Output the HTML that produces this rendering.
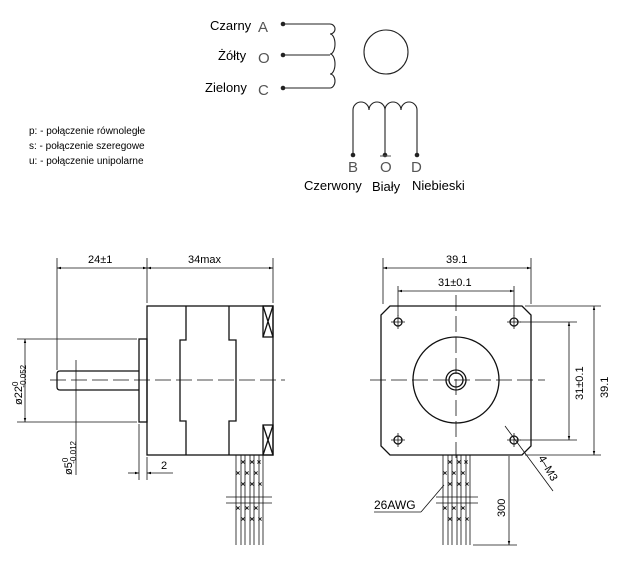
<!DOCTYPE html>
<html><head><meta charset="utf-8"><style>
html,body{margin:0;padding:0;background:#fff;}
svg{display:block;}
.t{font-family:"Liberation Sans",sans-serif;}
</style></head><body>
<svg width="641" height="586" viewBox="0 0 641 586" xmlns="http://www.w3.org/2000/svg">
<defs>
<marker id="ar" viewBox="0 0 10 10" refX="10" refY="5" markerWidth="7" markerHeight="5" orient="auto-start-reverse"><path d="M0,2 L10,5 L0,8 z" fill="#000"/></marker>
<g id="xm"><path d="M-1.6,-1.6 L1.6,1.6 M1.6,-1.6 L-1.6,1.6" stroke="#111" stroke-width="0.9"/></g>
</defs>
<g fill="none" stroke="#222" stroke-width="1.1">
<path d="M283,24 H330 a5,5 0 0 1 0,10 a5,10 0 0 1 0,20 a5,10 0 0 1 0,20 a5,7 0 0 1 0,14 H283"/>
<path d="M283,55 H330"/>
<circle cx="386" cy="52" r="22"/>
<path d="M353,155 V110 a8,8 0 0 1 16,0 a8,8 0 0 1 16,0 a8,8 0 0 1 16,0 a8,8 0 0 1 16,0 V155"/>
<path d="M385,110 V155"/>
</g>
<g fill="#222">
<circle cx="283" cy="24" r="2.3"/><circle cx="283" cy="55" r="2.3"/><circle cx="283" cy="88" r="2.3"/>
<circle cx="353" cy="155" r="2.3"/><circle cx="385" cy="155" r="2.3"/><circle cx="417" cy="155" r="2.3"/>
</g>
<g class="t" font-size="13" fill="#000">
<text x="210" y="30">Czarny</text><text x="218" y="60">Żółty</text><text x="205" y="92">Zielony</text>
<text x="304" y="190">Czerwony</text><text x="372" y="191">Biały</text><text x="412" y="190">Niebieski</text>
</g>
<g class="t" font-size="15" fill="#555">
<text x="258" y="32">A</text><text x="258" y="63">O</text><text x="258" y="95">C</text>
<text x="348" y="172">B</text><text x="380" y="172">O</text><text x="411" y="172">D</text>
</g>
<line x1="380" y1="156" x2="391" y2="156" stroke="#555" stroke-width="1"/>
<g class="t" font-size="10" fill="#000">
<text x="29" y="134">p: - połączenie równoległe</text>
<text x="29" y="149">s: - połączenie szeregowe</text>
<text x="29" y="164">u: - połączenie unipolarne</text>
</g>

<!-- side view -->
<g fill="none" stroke="#111" stroke-width="1.3">
<rect x="147" y="306" width="126" height="149"/>
<path d="M186,306 V340 H180 V421 H186 V455"/>
<path d="M229,306 V340 H236 V421 H229 V455"/>
<rect x="139" y="339" width="8" height="83"/>
<path d="M139,371 H60 q-3,0 -3,3 V387 q0,3 3,3 H139"/>
<rect x="263" y="306" width="10" height="31"/><path d="M263,306 L273,337 M273,306 L263,337"/>
<rect x="263" y="425" width="10" height="30"/><path d="M263,425 L273,455 M273,425 L263,455"/>
</g>
<g stroke="#111" stroke-width="0.8" fill="none">
<line x1="50" y1="380" x2="285" y2="380" stroke-dasharray="16,5"/>
<line x1="57" y1="258" x2="57" y2="370"/><line x1="147" y1="258" x2="147" y2="303"/><line x1="273" y1="258" x2="273" y2="303"/>
<line x1="57" y1="268" x2="147" y2="268" marker-start="url(#ar)" marker-end="url(#ar)"/>
<line x1="147" y1="268" x2="273" y2="268" marker-start="url(#ar)" marker-end="url(#ar)"/>
<line x1="17" y1="339" x2="137" y2="339"/><line x1="17" y1="422" x2="137" y2="422"/>
<line x1="25" y1="339" x2="25" y2="422" marker-start="url(#ar)" marker-end="url(#ar)"/>
<line x1="76" y1="360" x2="76" y2="475"/>
<line x1="139" y1="424" x2="139" y2="480"/><line x1="147" y1="457" x2="147" y2="480"/>
<line x1="128" y1="473" x2="139" y2="473" marker-end="url(#ar)"/>
<line x1="173" y1="473" x2="147" y2="473" marker-end="url(#ar)"/>
<path d="M236,455 V545 M241,455 V545 M245,455 V545 M250,455 V545 M254,455 V545 M259,455 V545 M263,455 V545"/>
<line x1="226" y1="497" x2="272" y2="497"/><line x1="226" y1="503" x2="272" y2="503"/>
</g>
<g>
<use href="#xm" x="243" y="462"/><use href="#xm" x="252" y="462"/><use href="#xm" x="259" y="462"/>
<use href="#xm" x="238" y="473"/><use href="#xm" x="247" y="473"/><use href="#xm" x="256" y="473"/>
<use href="#xm" x="243" y="484"/><use href="#xm" x="252" y="484"/><use href="#xm" x="260" y="484"/>
<use href="#xm" x="238" y="508"/><use href="#xm" x="247" y="508"/><use href="#xm" x="256" y="508"/>
<use href="#xm" x="243" y="519"/><use href="#xm" x="252" y="519"/><use href="#xm" x="260" y="519"/>
</g>
<g class="t" font-size="11" fill="#000">
<text x="88" y="263">24±1</text><text x="188" y="263">34max</text><text x="161" y="469">2</text>
<text transform="translate(22,405) rotate(-90)">ø22<tspan font-size="8" dy="-4">0</tspan><tspan font-size="8" dx="-6" dy="8">-0.052</tspan></text>
<text transform="translate(72,475) rotate(-90)">ø5<tspan font-size="8" dy="-4">0</tspan><tspan font-size="8" dx="-6" dy="8">-0.012</tspan></text>
</g>

<!-- front view -->
<g fill="none" stroke="#111" stroke-width="1.3">
<path d="M390,306 H522 L531,315 V446 L522,455 H390 L381,446 V315 Z"/>
<circle cx="456" cy="380" r="43"/>
<circle cx="456" cy="380" r="10"/><circle cx="456" cy="380" r="7"/>
<circle cx="398" cy="322" r="4"/><circle cx="514" cy="322" r="4"/><circle cx="398" cy="440" r="4"/><circle cx="514" cy="440" r="4"/>
</g>
<g stroke="#111" stroke-width="0.8" fill="none">
<path d="M391,322 H405 M398,315 V329 M507,322 H521 M514,315 V329 M391,440 H405 M398,433 V447 M507,440 H521 M514,433 V447"/>
<line x1="370" y1="380" x2="545" y2="380" stroke-dasharray="16,5"/>
<line x1="456" y1="295" x2="456" y2="460" stroke-dasharray="16,5"/>
<line x1="383" y1="258" x2="383" y2="304"/><line x1="531" y1="258" x2="531" y2="304"/>
<line x1="383" y1="268" x2="531" y2="268" marker-start="url(#ar)" marker-end="url(#ar)"/>
<line x1="398" y1="286" x2="398" y2="316"/><line x1="514" y1="286" x2="514" y2="316"/>
<line x1="398" y1="291" x2="514" y2="291" marker-start="url(#ar)" marker-end="url(#ar)"/>
<line x1="525" y1="306" x2="601" y2="306"/><line x1="525" y1="455" x2="601" y2="455"/>
<line x1="594" y1="306" x2="594" y2="455" marker-start="url(#ar)" marker-end="url(#ar)"/>
<line x1="520" y1="322" x2="577" y2="322"/><line x1="520" y1="440" x2="577" y2="440"/>
<line x1="569" y1="322" x2="569" y2="440" marker-start="url(#ar)" marker-end="url(#ar)"/>
<line x1="505" y1="426" x2="553" y2="491"/>
<path d="M443,455 V545 M448,455 V545 M452,455 V545 M457,455 V545 M461,455 V545 M466,455 V545 M470,455 V545"/>
<line x1="436" y1="497" x2="478" y2="497"/><line x1="436" y1="503" x2="478" y2="503"/>
<line x1="374" y1="512" x2="421" y2="512"/><line x1="421" y1="512" x2="444" y2="485"/>
<line x1="473" y1="545" x2="517" y2="545"/>
<line x1="509" y1="456" x2="509" y2="545" marker-end="url(#ar)"/>
</g>
<g>
<use href="#xm" x="450" y="462"/><use href="#xm" x="459" y="462"/><use href="#xm" x="466" y="462"/>
<use href="#xm" x="445" y="473"/><use href="#xm" x="454" y="473"/><use href="#xm" x="463" y="473"/>
<use href="#xm" x="450" y="484"/><use href="#xm" x="459" y="484"/><use href="#xm" x="467" y="484"/>
<use href="#xm" x="445" y="508"/><use href="#xm" x="454" y="508"/><use href="#xm" x="463" y="508"/>
<use href="#xm" x="450" y="519"/><use href="#xm" x="459" y="519"/><use href="#xm" x="467" y="519"/>
</g>
<g class="t" font-size="11" fill="#000">
<text x="446" y="263">39.1</text><text x="438" y="286">31±0.1</text>
<text transform="translate(608,398) rotate(-90)">39.1</text>
<text transform="translate(583,400) rotate(-90)">31±0.1</text>
<text transform="translate(538,458) rotate(60)">4–M3</text>
<text x="374" y="509" font-size="12">26AWG</text>
<text transform="translate(505,517) rotate(-90)">300</text>
</g>
</svg>
</body></html>
